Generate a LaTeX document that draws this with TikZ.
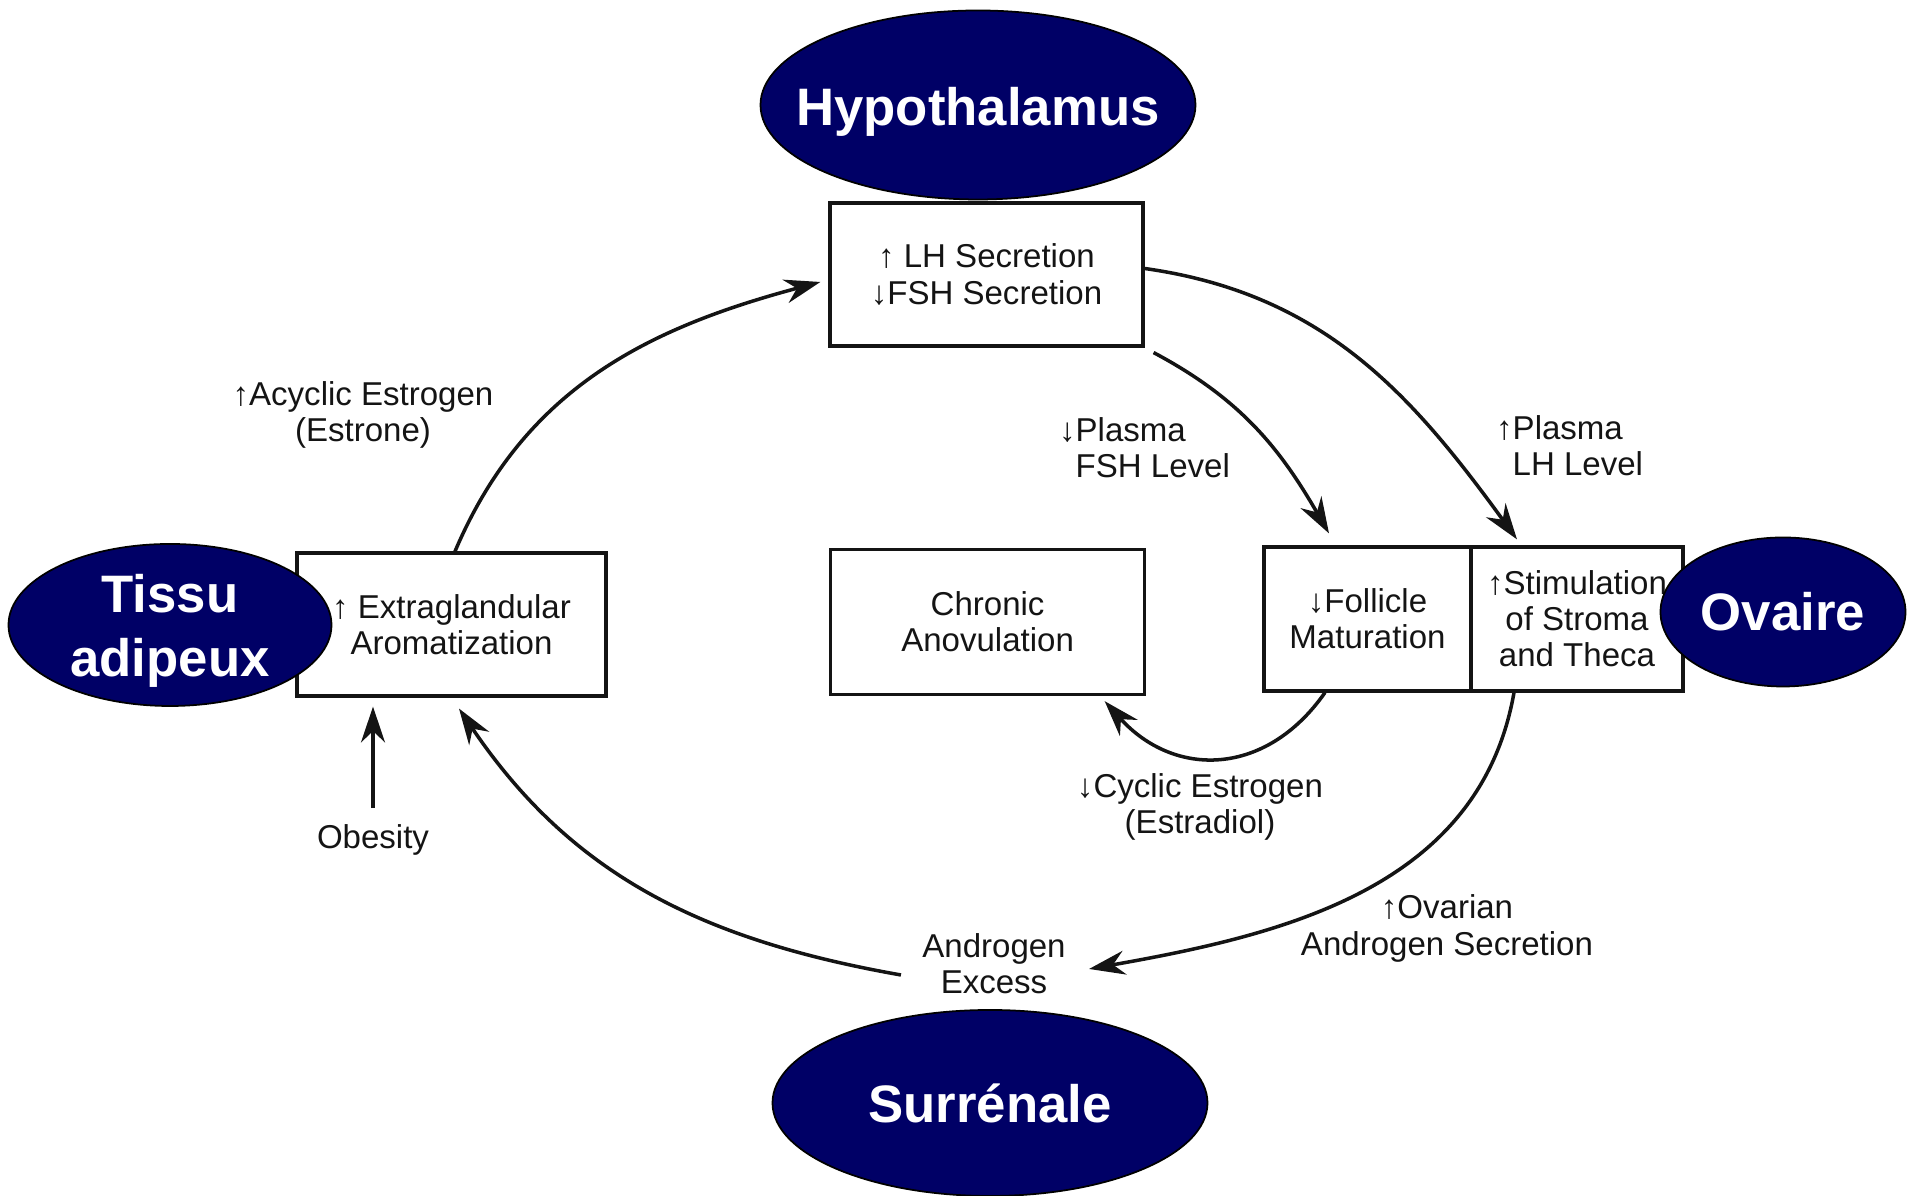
\documentclass[tikz,border=0pt]{standalone}
\usepackage{fontspec}
\setmainfont{Liberation Sans}
\usetikzlibrary{arrows.meta,shapes.geometric}
\definecolor{ink}{HTML}{141414}
\definecolor{glandblue}{HTML}{000066}
\newcommand{\lblfont}{\fontsize{9.4}{10.3}\selectfont}
\newcommand{\glandfont}{\fontsize{15}{18.3}\selectfont\bfseries}
\tikzset{
  box/.style={draw=ink,line width=0.9pt,inner sep=0pt,align=center,text=ink},
  gland/.style={ellipse,draw=black,line width=0.5pt,fill=glandblue,inner sep=0pt},
  glandtxt/.style={text=white,font=\glandfont,align=center,inner sep=0pt},
  flow/.style={draw=ink,line width=1pt,-{Stealth[length=3.6mm,width=2.4mm]}}
}

\begin{document}
\begin{tikzpicture}[x=1cm,y=1cm,font=\lblfont]
    \useasboundingbox (0,0) rectangle (19.07,11.96);
    % boxes
    \node[box,minimum width=3.13cm,minimum height=1.43cm] (lhbox) at (9.865,9.215)
      {↑ LH Secretion\\↓FSH Secretion};
    \node[box,minimum width=3.09cm,minimum height=1.43cm] (aroma) at (4.515,5.715)
      {↑ Extraglandular\\Aromatization};
    \node[box,minimum width=3.14cm,minimum height=1.45cm] (anov) at (9.876,5.739)
      {Chronic\\Anovulation};
    \node[box,minimum width=2.07cm,minimum height=1.44cm] (foll) at (13.675,5.77)
      {↓Follicle\\Maturation};
    \node[box,minimum width=2.12cm,minimum height=1.44cm] (stim) at (15.77,5.77)
      {↑Stimulation\\of Stroma\\and Theca};
    % labels
    \node[align=center,text=ink] (acyc) at (3.63,7.81) {↑Acyclic Estrogen\\(Estrone)};
    \node[align=left,anchor=west,inner sep=0pt,text=ink] (fshlvl) at (10.75,7.485)
      {\llap{↓}Plasma\\FSH Level};
    \node[align=left,anchor=west,inner sep=0pt,text=ink] (lhlvl) at (15.12,7.505)
      {\llap{↑}Plasma\\LH Level};
    \node[align=center,text=ink] (cyclic) at (12.0,3.89) {↓Cyclic Estrogen\\(Estradiol)};
    \node[text=ink] (obes) at (3.73,3.56) {Obesity};
    \node[align=center,text=ink] (andro) at (9.94,2.325) {Androgen\\Excess};
    \node[align=center,text=ink] (ovsec) at (14.47,2.675) {↑Ovarian\\Androgen Secretion};
    % glands
    \node[gland,minimum width=4.35cm,minimum height=1.89cm,
          label={[glandtxt,yshift=-0.7mm]center:Hypothalamus}] (hypo) at (9.78,10.91) {};
    \node[gland,minimum width=3.23cm,minimum height=1.62cm,
          label={[glandtxt,yshift=-0.6mm]center:Tissu\\adipeux}] (adip) at (1.70,5.71) {};
    \node[gland,minimum width=2.45cm,minimum height=1.49cm,
          label={[glandtxt]center:Ovaire}] (ovaire) at (17.83,5.84) {};
    \node[gland,minimum width=4.35cm,minimum height=1.86cm,
          label={[glandtxt]center:Surrénale}] (surr) at (9.90,0.93) {};
    % connectors
    \draw[flow] ([xshift=0.35mm]aroma.north) to[out=67,in=195]
      ([xshift=-0.8mm,yshift=-0.75mm]lhbox.west);
    \draw[flow] ([yshift=0.6mm]lhbox.east) to[out=-8,in=126]
      ([xshift=-6mm,yshift=0.6mm]stim.north);
    \draw[flow] ([shift={(0.9mm,-0.5mm)}]lhbox.south east) to[out=-28,in=120]
      ([xshift=-3.85mm,yshift=1.2mm]foll.north);
    \draw[flow] ([xshift=-4.25mm]foll.south) to[out=-125,in=-48,looseness=1.2]
      ([xshift=-4.15mm,yshift=-0.5mm]anov.south east);
    \draw[flow] ([xshift=-6.3mm]stim.south) to[out=-100,in=10]
      ([xshift=1.1mm,yshift=-0.55mm]andro.east);
    \draw[flow] ([xshift=-0.9mm,yshift=-1.15mm]andro.west) to[out=170,in=-56]
      ([xshift=0.75mm,yshift=-1.1mm]aroma.south);
    \draw[flow,shorten >=0.9mm] ([yshift=0.4mm]obes.north) -- (obes.north |- aroma.south);
\end{tikzpicture}
\end{document}
